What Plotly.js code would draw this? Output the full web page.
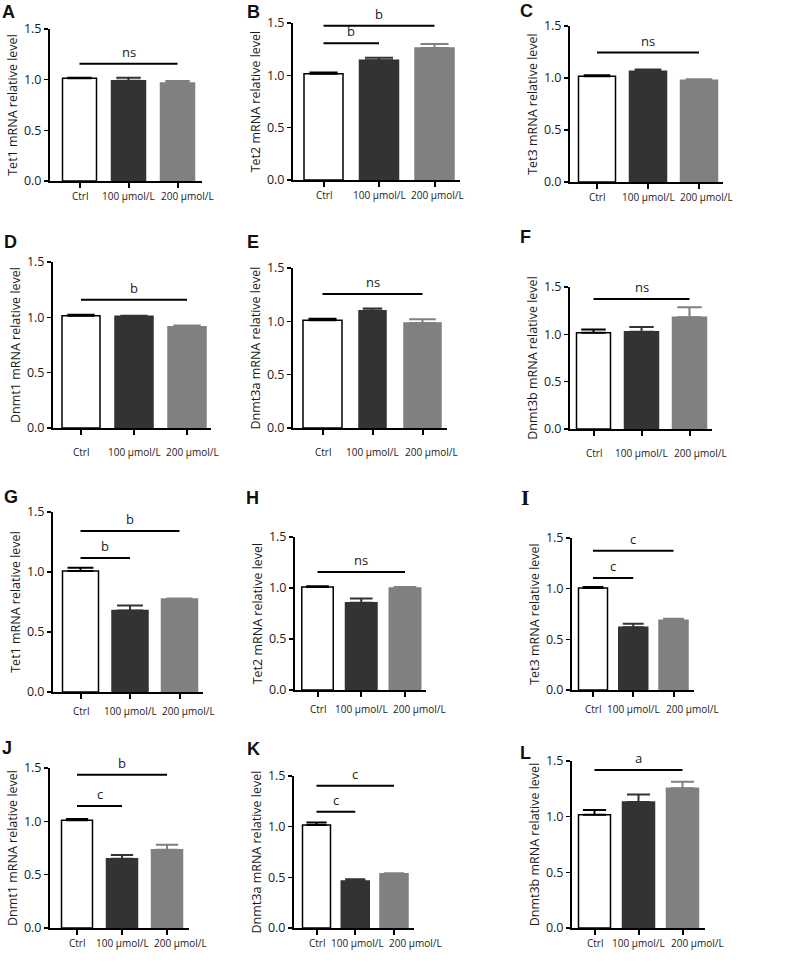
<!DOCTYPE html>
<html>
<head>
<meta charset="utf-8">
<script src="https://cdn.plot.ly/plotly-3.0.1.min.js"></script>
<style>
html,body{margin:0;padding:0;background:#ffffff;}
#chart{width:789px;height:964px;}
</style>
</head>
<body>
<div id="chart"></div>
<script>
// ---------------- DATA ----------------
const categories = ["Ctrl", "100 μmol/L", "200 μmol/L"];
const panelLetters = ["A", "B", "C", "D", "E", "F", "G", "H", "I", "J", "K", "L"];
const genes = ["Tet1", "Tet2", "Tet3", "Dnmt1", "Dnmt3a", "Dnmt3b",
               "Tet1", "Tet2", "Tet3", "Dnmt1", "Dnmt3a", "Dnmt3b"];
const yTickVals = [0, 0.5, 1.0, 1.5];
const yTickText = ["0.0", "0.5", "1.0", "1.5"];

const meanCtrl = [1.013, 1.016, 1.016, 1.015, 1.009, 1.017, 1.008, 1.010, 1.007, 1.009, 1.016, 1.018];
const errCtrl  = [0.005, 0.010, 0.010, 0.009, 0.015, 0.035, 0.028, 0.006, 0.009, 0.013, 0.024, 0.042];
const mean100  = [0.990, 1.143, 1.064, 1.009, 1.100, 1.028, 0.680, 0.856, 0.620, 0.650, 0.464, 1.132];
const err100   = [0.030, 0.025, 0.018, 0.006, 0.020, 0.050, 0.040, 0.040, 0.035, 0.034, 0.016, 0.068];
const mean200  = [0.967, 1.260, 0.978, 0.915, 0.984, 1.180, 0.775, 1.000, 0.688, 0.734, 0.536, 1.255];
const err200   = [0.020, 0.040, 0.010, 0.012, 0.035, 0.105, 0.005, 0.010, 0.016, 0.046, 0.005, 0.059];

// significance comparisons (panel index, from group, to group, bracket level, label)
const sigPanel = [0, 1, 1, 2, 3, 4, 5, 6, 6, 7, 8, 8, 9, 9, 10, 10, 11];
const sigFrom  = [0, 0, 0, 0, 0, 0, 0, 0, 0, 0, 0, 0, 0, 0, 0, 0, 0];
const sigTo    = [2, 1, 2, 2, 2, 2, 2, 1, 2, 2, 1, 2, 1, 2, 1, 2, 2];
const sigLevel = [1.158, 1.306, 1.474, 1.245, 1.160, 1.256, 1.374, 1.117, 1.342, 1.157, 1.105, 1.375, 1.144, 1.437, 1.148, 1.405, 1.419];
const sigLabel = ["ns", "b", "b", "ns", "b", "ns", "ns", "b", "b", "ns", "c", "c", "c", "b", "c", "c", "a"];

// ---------------- LAYOUT GEOMETRY (pixels) ----------------
// left axis x, x-axis end, first bar centre, bar spacing, y of 0.0, y of 1.5, bar width(s), x-label drop
const geom = [
  [50, 202, 79.5, 49,     181, 29,  34, 15],
  [293, 460, 323.5, 55.5, 180, 23,  39, 15],
  [570, 723, 597, 51,     182, 26,  37, 15],
  [53, 211, 81, 53,       428, 262, 38, 24],
  [293, 447, 322.5, 50,   428, 268, [39, 27, 37], 24],
  [570, 712, 593.5, 48,   429, 287, 34, 24],
  [53, 203, 80.5, 49.5,   692, 512, 36, 19],
  [295, 426, 317.5, 43.75, 690, 537, 31.5, 19],
  [572, 694, 593, 40.25,  690, 538, 29, 19],
  [50, 189, 77, 45,       928, 768, 31, 15],
  [294, 414, 316.5, 38.75, 928, 776, 28, 15],
  [572, 705, 594.5, 44,   928, 761, 32, 15]
];
const letterPos = [[0, 12], [245, 12], [518, 11], [2, 242], [245, 242], [518, 237],
                   [2, 497], [244, 498], [519, 498], [0, 748], [245, 749], [518, 753]];

const W = 789, H = 964;
const FONT = "Open Sans, Liberation Sans, sans-serif";
const TXT = "#1a1a1a";
const XLAB_SIZE = 10;
const seriesMean = [meanCtrl, mean100, mean200];
const seriesErr = [errCtrl, err100, err200];
const fills = ["#ffffff", "#333333", "#808080"];
const edges = ["#000000", "#333333", "#808080"];

// measure category label widths to keep neighbouring labels apart
const ctx = document.createElement("canvas").getContext("2d");
ctx.font = XLAB_SIZE + "px 'Open Sans'";
const labW = categories.map(c => ctx.measureText(c).width);

const traces = [];
const layout = {
  width: W, height: H,
  margin: {l: 0, r: 0, t: 0, b: 0},
  paper_bgcolor: "#ffffff", plot_bgcolor: "rgba(0,0,0,0)",
  barmode: "overlay", showlegend: false,
  font: {family: FONT, color: TXT},
  shapes: [], annotations: []
};

for (let p = 0; p < 12; p++) {
  const g = geom[p];
  const sfx = p === 0 ? "" : String(p + 1);
  const xa = "x" + sfx, ya = "y" + sfx;
  for (let s = 0; s < 3; s++) {
    const bwPx = Array.isArray(g[6]) ? g[6][s] : g[6];
    traces.push({
      type: "bar",
      x: [categories[s]],
      y: [seriesMean[s][p]],
      xaxis: xa, yaxis: ya,
      width: bwPx / g[3],
      marker: {color: fills[s], line: {color: edges[s], width: 1.5}},
      error_y: {type: "data", symmetric: false, array: [seriesErr[s][p]], arrayminus: [0],
                color: edges[s], thickness: 2, width: bwPx * 0.36},
      hoverinfo: "skip", showlegend: false
    });
  }
  layout["xaxis" + sfx] = {
    domain: [g[0] / W, g[1] / W], anchor: ya,
    type: "category", categoryorder: "array", categoryarray: categories,
    range: [(g[0] - g[2]) / g[3], (g[1] - g[2]) / g[3]],
    showline: true, linecolor: "#000", linewidth: 2,
    ticks: "outside", ticklen: 5, tickwidth: 2, tickcolor: "#000",
    showgrid: false, zeroline: false, showticklabels: false,
    fixedrange: true
  };
  layout["yaxis" + sfx] = {
    domain: [(H - g[4]) / H, (H - g[5]) / H], anchor: xa,
    range: [0, 1.5], tickmode: "array", tickvals: yTickVals, ticktext: yTickText,
    showline: true, linecolor: "#000", linewidth: 2,
    ticks: "outside", ticklen: 4, tickwidth: 1.5, tickcolor: "#000",
    showgrid: false, zeroline: false,
    tickfont: {family: FONT, size: 12.5, color: TXT},
    title: {text: genes[p] + " mRNA relative level", font: {family: FONT, size: 12.5, color: TXT}, standoff: 4},
    fixedrange: true
  };
  // category labels under each bar, nudged apart where they would collide
  let prevRight = -1e9;
  for (let s = 0; s < 3; s++) {
    const c = g[2] + s * g[3];
    let centre = c;
    if (centre - labW[s] / 2 < prevRight + 6) centre = prevRight + 6 + labW[s] / 2;
    prevRight = centre + labW[s] / 2;
    layout.annotations.push({
      xref: xa, yref: ya, x: categories[s], y: 0,
      xanchor: "center", yanchor: "middle", xshift: centre - c, yshift: -g[7],
      showarrow: false, text: categories[s],
      font: {family: FONT, size: XLAB_SIZE, color: TXT}
    });
  }
  layout.annotations.push({
    xref: "paper", yref: "paper",
    x: letterPos[p][0] / W, y: 1 - letterPos[p][1] / H,
    xanchor: "left", yanchor: "middle", showarrow: false,
    text: "<b>" + panelLetters[p] + "</b>",
    font: {family: panelLetters[p] === "I" ? "DejaVu Serif, serif" : "Liberation Sans, Arial, sans-serif", size: 18, color: "#111"}
  });
}

for (let k = 0; k < sigPanel.length; k++) {
  const p = sigPanel[k];
  const sfx = p === 0 ? "" : String(p + 1);
  layout.shapes.push({
    type: "line", xref: "x" + sfx, yref: "y" + sfx,
    x0: sigFrom[k], x1: sigTo[k], y0: sigLevel[k], y1: sigLevel[k],
    line: {color: "#000", width: 2}
  });
  layout.annotations.push({
    xref: "x" + sfx, yref: "y" + sfx,
    x: (sigFrom[k] + sigTo[k]) / 2, y: sigLevel[k],
    xanchor: "center", yanchor: "bottom", yshift: 1, showarrow: false,
    text: sigLabel[k], font: {family: FONT, size: 13, color: TXT}
  });
}

Plotly.newPlot("chart", traces, layout, {staticPlot: true, displayModeBar: false});
</script>
</body>
</html>
